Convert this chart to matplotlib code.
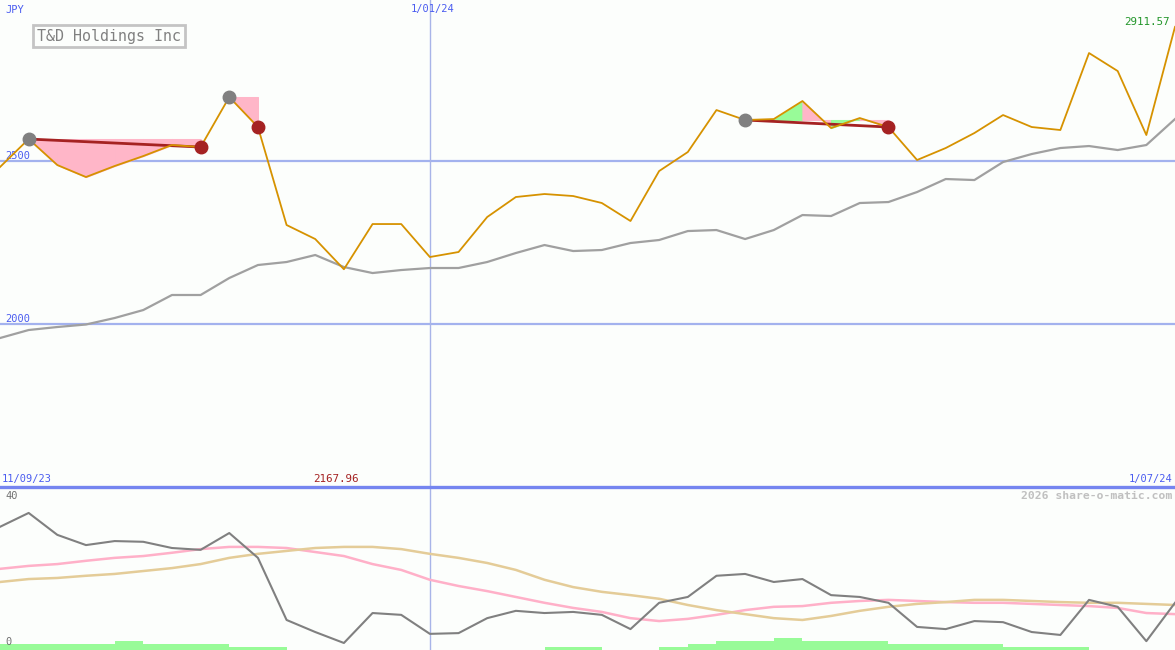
import matplotlib
matplotlib.use('Agg')
import matplotlib.pyplot as plt
import numpy as np

W, H = 1175, 650
BG = '#fcfefc'

# precos de fechamento (JPY), 11/09/23 a 1/07/24
preco = [2481.6, 2567.5, 2487.7, 2450.9, 2484.7, 2515.3, 2549.1, 2542.9, 2696.3, 2604.3,
         2303.7, 2260.7, 2167.96, 2306.7, 2306.7, 2205.5, 2220.9, 2328.2, 2389.6, 2398.8,
         2392.6, 2371.2, 2316.0, 2469.3, 2527.6, 2656.4, 2625.8, 2628.8, 2684.1, 2601.2,
         2631.9, 2604.3, 2503.1, 2539.9, 2585.9, 2641.1, 2604.3, 2595.1, 2831.3, 2776.1,
         2579.8, 2911.57]
media = [1957.0, 1981.6, 1990.8, 1998.5, 2018.4, 2042.9, 2089.0, 2089.0, 2141.1, 2181.0,
         2190.2, 2211.7, 2174.8, 2156.4, 2165.6, 2171.8, 2171.8, 2190.2, 2217.8, 2242.3,
         2223.9, 2227.0, 2248.5, 2257.7, 2285.2, 2288.3, 2260.7, 2288.3, 2334.3, 2331.3,
         2371.2, 2374.2, 2404.9, 2444.8, 2441.7, 2496.9, 2521.5, 2539.9, 2546.0, 2533.7,
         2549.1, 2628.8]

# indicadores do painel inferior
osc = [32.9, 36.7, 30.7, 27.9, 29.0, 28.8, 27.1, 26.6, 31.2, 24.4,
       7.4, 4.1, 1.1, 9.3, 8.8, 3.6, 3.8, 7.9, 9.9, 9.3,
       9.6, 8.8, 4.9, 12.1, 13.7, 19.5, 20.0, 17.8, 18.6, 14.2,
       13.7, 12.1, 5.5, 4.9, 7.1, 6.8, 4.1, 3.3, 12.9, 11.0,
       1.6, 12.1]
rosa = [21.4, 22.2, 22.7, 23.6, 24.4, 24.9, 25.8, 26.8, 27.4, 27.4,
        27.1, 26.0, 24.9, 22.7, 21.1, 18.4, 16.7, 15.3, 13.7, 12.1,
        10.7, 9.6, 7.9, 7.1, 7.7, 8.8, 10.1, 11.0, 11.2, 12.1,
        12.6, 12.9, 12.6, 12.3, 12.1, 12.1, 11.8, 11.5, 11.2, 10.7,
        9.3, 9.0]
bege = [17.8, 18.6, 18.9, 19.5, 20.0, 20.8, 21.6, 22.7, 24.4, 25.5,
        26.3, 27.1, 27.4, 27.4, 26.8, 25.5, 24.4, 23.0, 21.1, 18.4,
        16.4, 15.1, 14.2, 13.2, 11.5, 10.1, 9.0, 7.9, 7.4, 8.5,
        9.9, 11.0, 11.8, 12.3, 12.9, 12.9, 12.6, 12.3, 12.1, 12.1,
        11.8, 11.5]
volume = [1.6, 1.6, 1.6, 1.6, 2.5, 1.6, 1.6, 1.6, 0.8, 0.8,
          0, 0, 0, 0, 0, 0, 0, 0, 0, 0.8,
          0.8, 0, 0, 0.8, 1.6, 2.5, 2.5, 3.3, 2.5, 2.5,
          2.5, 1.6, 1.6, 1.6, 1.6, 0.8, 0.8, 0.8, 0, 0,
          0, 0]

# zonas: (inicio, fim, cores por segmento, desenhar tendencia)
zonas = [
    (1, 7, ['pink'] * 6, True),
    (8, 9, ['pink'], False),
    (26, 31, ['pink', 'green', 'pink', 'green', 'pink'], True),
]
topos = [1, 8, 26]
fundos = [7, 9, 31]

data_ini = '11/09/23'
data_meio = '1/01/24'
data_fim = '1/07/24'
idx_meio = 15
niveis = [2000, 2500]

CORES_ZONA = {'pink': '#ffb6c8', 'green': '#98fb98'}
AZUL_TXT = '#4a5cf0'

x = np.arange(len(preco))
n = len(preco) - 1

fig = plt.figure(figsize=(W / 100, H / 100), dpi=100, facecolor=BG)
ax = fig.add_axes([0, 163 / H, 1, 487 / H])
ax2 = fig.add_axes([0, 0, 1, 163 / H])
for a in (ax, ax2):
    a.set_facecolor(BG)
    a.set_xlim(0, n)
    a.axis('off')

ax.set_ylim(1500, 2994)
ax2.set_ylim(-0.82, 43.8)

for nv in niveis:
    ax.axhline(nv, color='#a3b2ee', lw=1.6, zorder=1)
    ax.annotate(str(nv), (0, nv), xytext=(5, 0), textcoords='offset pixels',
                color=AZUL_TXT, fontsize=7.5, family='DejaVu Sans Mono', va='bottom')

ax.axvline(idx_meio, color='#a8b4e8', lw=1, zorder=1)
ax2.axvline(idx_meio, color='#a8b4e8', lw=1, zorder=1)

ax.plot(x, media, color='#a0a0a0', lw=1.6, zorder=2)

p = np.array(preco)
for ini, fim, cores, tendencia in zonas:
    nivel = p[ini]
    for k, c in enumerate(cores):
        i = ini + k
        ax.fill_between([i, i + 1], [nivel, nivel], p[i:i + 2], color=CORES_ZONA[c],
                        lw=0.8, edgecolor=CORES_ZONA[c], zorder=2)
    if tendencia:
        ax.plot([ini, fim], [p[ini], p[fim]], color='#a52222', lw=2, zorder=3)

ax.plot(x, preco, color='#d69200', lw=1.3, zorder=4)
ax.plot(topos, p[topos], 'o', color='#808080', ms=9, zorder=5)
ax.plot(fundos, p[fundos], 'o', color='#a52222', ms=9, zorder=5)

# painel inferior
ax2.bar(x, volume, width=1, align='edge', bottom=-0.82, color='#98fb98', lw=0, zorder=1)
ax2.plot(x, rosa, color='#ffb0c8', lw=1.8, zorder=2)
ax2.plot(x, bege, color='#e4cc98', lw=1.8, zorder=2)
ax2.plot(x, osc, color='#808080', lw=1.5, zorder=3)
ax2.axhline(43.8, color='#7585f0', lw=2.4, clip_on=False, zorder=5)

mono = 'DejaVu Sans Mono'


def txt(px, py, s, **kw):
    fig.text(px / W, 1 - py / H, s, family=mono, va='center', **kw)


txt(5, 10, 'JPY', color=AZUL_TXT, fontsize=7.5)
txt(37, 36, 'T&D Holdings Inc', color='#808080', fontsize=10.8,
    bbox=dict(boxstyle='square,pad=0.25', fc=BG, ec='#c4c4c4', lw=2))
txt(433, 9, data_meio, color=AZUL_TXT, fontsize=7.5, ha='center')
txt(1170, 22, f'{preco[-1]:.2f}', color='#22962a', fontsize=7.8, ha='right')
txt(2, 479, data_ini, color=AZUL_TXT, fontsize=7.5)
txt(1172, 479, data_fim, color=AZUL_TXT, fontsize=7.5, ha='right')
i_min = int(np.argmin(p))
txt(i_min * W / n - 8, 479, f'{p[i_min]:.2f}', color='#a52222', fontsize=7.8, ha='center')
txt(1172, 496, '2026 share-o-matic.com', color='#c0c0c0', fontsize=8.2, ha='right', weight='bold')
txt(5, 496, '40', color='#707070', fontsize=7.5)
txt(5, 642, '0', color='#707070', fontsize=7.5)

fig.savefig('out.png', dpi=100, facecolor=BG)
